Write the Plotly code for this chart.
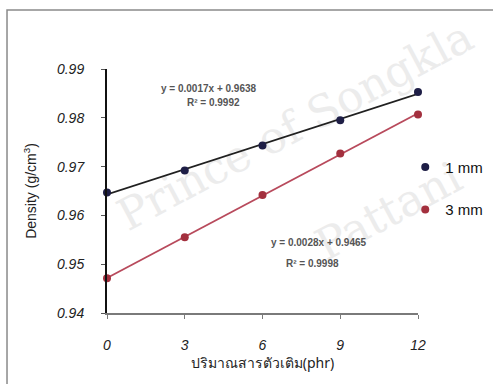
import numpy as np
import plotly.graph_objects as go

# Filler content (phr) and measured density (g/cm^3) for two specimen thicknesses
filler_phr = [0, 3, 6, 9, 12]
density_1mm = [0.9647, 0.9692, 0.9743, 0.9795, 0.9853]
density_3mm = [0.9471, 0.9555, 0.9642, 0.9727, 0.9807]
x_ticks = [0, 3, 6, 9, 12]
y_ticks = [0.94, 0.95, 0.96, 0.97, 0.98, 0.99]

eq_1mm = "y = 0.0017x + 0.9638"
r2_1mm = "R² = 0.9992"
eq_3mm = "y = 0.0028x + 0.9465"
r2_3mm = "R² = 0.9998"

c1_marker = "#1e1e46"
c1_line = "#202020"
c3_marker = "#a3303e"
c3_line = "#b84a5c"

fig = go.Figure()

# Faint watermark placed as shape labels beneath the data layer
wm_font = dict(family="DejaVu Serif", size=44, color="#ececec")
for text, cx, cy in [("Prince of Songkla", 0.60, 0.78), ("Pattani", 0.90, 0.43)]:
    fig.add_shape(type="rect", xref="paper", yref="paper",
                  x0=cx - 0.05, x1=cx + 0.05, y0=cy - 0.05, y1=cy + 0.05,
                  line=dict(width=0), fillcolor="rgba(0,0,0,0)", layer="below",
                  label=dict(text=text, font=wm_font, textangle=-28,
                             textposition="middle center"))

# Outer frame
fig.add_shape(type="rect", xref="paper", yref="paper",
              x0=-0.3215, x1=1.4, y0=-0.4, y1=1.2418,
              line=dict(color="#8a8a8a", width=1.5), layer="below")

# Linear trendlines fitted to each series
xs = np.array([min(filler_phr), max(filler_phr)], dtype=float)
for ys, col in [(density_1mm, c1_line), (density_3mm, c3_line)]:
    k, b = np.polyfit(filler_phr, ys, 1)
    fig.add_trace(go.Scatter(x=xs, y=k * xs + b, mode="lines",
                             line=dict(color=col, width=1.8),
                             showlegend=False, hoverinfo="skip", cliponaxis=False))

fig.add_trace(go.Scatter(x=filler_phr, y=density_1mm, mode="markers", name="1 mm",
                         legendgroup="a",
                         marker=dict(color=c1_marker, size=8, line=dict(width=0)),
                         cliponaxis=False))
fig.add_trace(go.Scatter(x=filler_phr, y=density_3mm, mode="markers", name="3 mm",
                         legendgroup="b",
                         marker=dict(color=c3_marker, size=8, line=dict(width=0)),
                         cliponaxis=False))

eq_font = dict(family="Liberation Sans", size=10, color="#555555", weight="bold")
for text, xx, yy in [(eq_1mm, 3.95, 0.9861), (r2_1mm, 4.1, 0.9831),
                     (eq_3mm, 8.18, 0.9545), (r2_3mm, 7.91, 0.9502)]:
    fig.add_annotation(x=xx, y=yy, xref="x", yref="y", text=text,
                       showarrow=False, font=eq_font)

tick_font = dict(family="Liberation Sans", size=14, color="#222222", style="italic")

fig.update_layout(
    width=493, height=384,
    margin=dict(l=107, r=75, t=69, b=71, autoexpand=False),
    paper_bgcolor="white", plot_bgcolor="rgba(0,0,0,0)",
    showlegend=True,
    legend=dict(xref="container", yref="container",
                x=0.822, xanchor="left", y=0.51, yanchor="middle",
                font=dict(family="Liberation Sans", size=15, color="#111111"),
                traceorder="grouped", tracegroupgap=20,
                itemwidth=30, bgcolor="rgba(0,0,0,0)"),
    xaxis=dict(range=[0, 12], tickvals=x_ticks, ticktext=[str(v) for v in x_ticks],
               showgrid=False, zeroline=False, automargin=False,
               showline=True, linecolor="#7a7a7a", linewidth=1.5,
               ticks="outside", ticklen=4, tickcolor="#7a7a7a",
               tickfont=tick_font, ticklabelstandoff=14,
               title=dict(text="ปริมาณสารตัวเติม(phr)",
                          font=dict(family="Noto Sans", size=14, color="#222222"),
                          standoff=7)),
    yaxis=dict(range=[0.94, 0.99], tickvals=y_ticks,
               ticktext=[f"{v:.2f}" for v in y_ticks],
               showgrid=False, zeroline=False, automargin=False,
               showline=True, linecolor="#111111", linewidth=2,
               ticks="outside", ticklen=4, tickcolor="#555555",
               tickfont=tick_font, ticklabelstandoff=14,
               title=dict(text="Density (g/cm<sup>3</sup>)",
                          font=dict(family="Liberation Sans", size=14, color="#222222"),
                          standoff=17)),
)

fig.write_html("out.html")
